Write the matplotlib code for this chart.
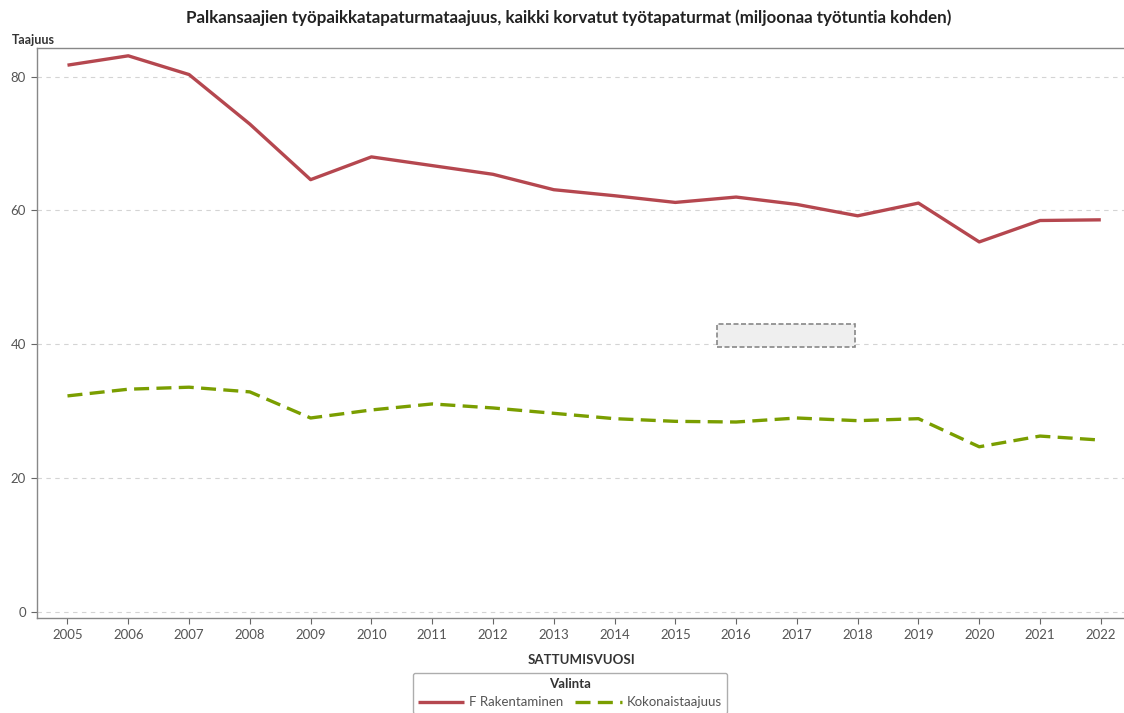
import matplotlib.pyplot as plt
from matplotlib.patches import Rectangle

plt.rcParams['font.family'] = ['Lato', 'DejaVu Sans']

# Data
years = list(range(2005, 2023))
rakentaminen = [81.7, 83.1, 80.3, 72.9, 64.6, 68.0, 66.7, 65.4, 63.1, 62.2,
                61.2, 62.0, 60.9, 59.2, 61.1, 55.3, 58.5, 58.6]
kokonais = [32.3, 33.3, 33.6, 32.9, 29.0, 30.2, 31.1, 30.5, 29.7, 28.9,
            28.5, 28.4, 29.0, 28.6, 28.9, 24.7, 26.3, 25.7]
y_ticks = [0, 20, 40, 60, 80]

red = '#b5474f'
green = '#7a9e00'
grey_text = '#555555'

fig = plt.figure(figsize=(11.24, 7.13), dpi=100)
ax = fig.add_axes([0.033, 0.133, 0.968, 0.8])

ax.plot(years, rakentaminen, color=red, linewidth=2.4, label='F Rakentaminen',
        solid_capstyle='butt')
ax.plot(years, kokonais, color=green, linewidth=2.4, dashes=(4.5, 2.2),
        label='Kokonaistaajuus')

ax.set_xlim(2004.5, 2022.4)
ax.set_ylim(-0.9, 84.3)
ax.set_xticks(years)
ax.set_yticks(y_ticks)
ax.tick_params(axis='both', colors='#666666', labelcolor=grey_text, labelsize=9.5,
               length=4, width=0.8)
ax.tick_params(axis='y', pad=4)

ax.grid(axis='y', linestyle=(0, (4, 4)), color='#d4d4d4', linewidth=0.8)
ax.set_axisbelow(True)
for side in ['left', 'bottom', 'top']:
    ax.spines[side].set_color('#888888')
    ax.spines[side].set_linewidth(1.0)
ax.spines['right'].set_visible(False)

# empty dashed placeholder box
ax.add_patch(Rectangle((2015.69, 39.6), 2.26, 3.45, facecolor='#efefef',
                       edgecolor='#888888', linestyle=(0, (3, 1.5)), linewidth=1.2,
                       zorder=3))

ax.set_xlabel('SATTUMISVUOSI', fontsize=9.5, fontweight='bold', color='#333333',
              labelpad=10)
fig.text(0.011, 0.935, 'Taajuus', fontsize=9, fontweight='bold', color='#333333',
         va='bottom')
fig.suptitle('Palkansaajien työpaikkatapaturmataajuus, kaikki korvatut työtapaturmat '
             '(miljoonaa työtuntia kohden)', x=0.506, y=0.987, fontsize=12.2,
             fontweight='bold', color='#222222')

leg = fig.legend(loc='upper center', bbox_to_anchor=(0.507, 0.066), ncol=2,
                 title='Valinta', frameon=True, fontsize=9.5, handlelength=3.5,
                 columnspacing=0.9, handletextpad=0.4, borderpad=0.4,
                 fancybox=True)
leg.get_title().set_fontweight('bold')
leg.get_title().set_fontsize(9.5)
leg.get_title().set_color('#333333')
for t in leg.get_texts():
    t.set_color(grey_text)
leg.get_frame().set_edgecolor('#999999')
leg.get_frame().set_linewidth(1.0)

fig.savefig('out.png', dpi=100)
